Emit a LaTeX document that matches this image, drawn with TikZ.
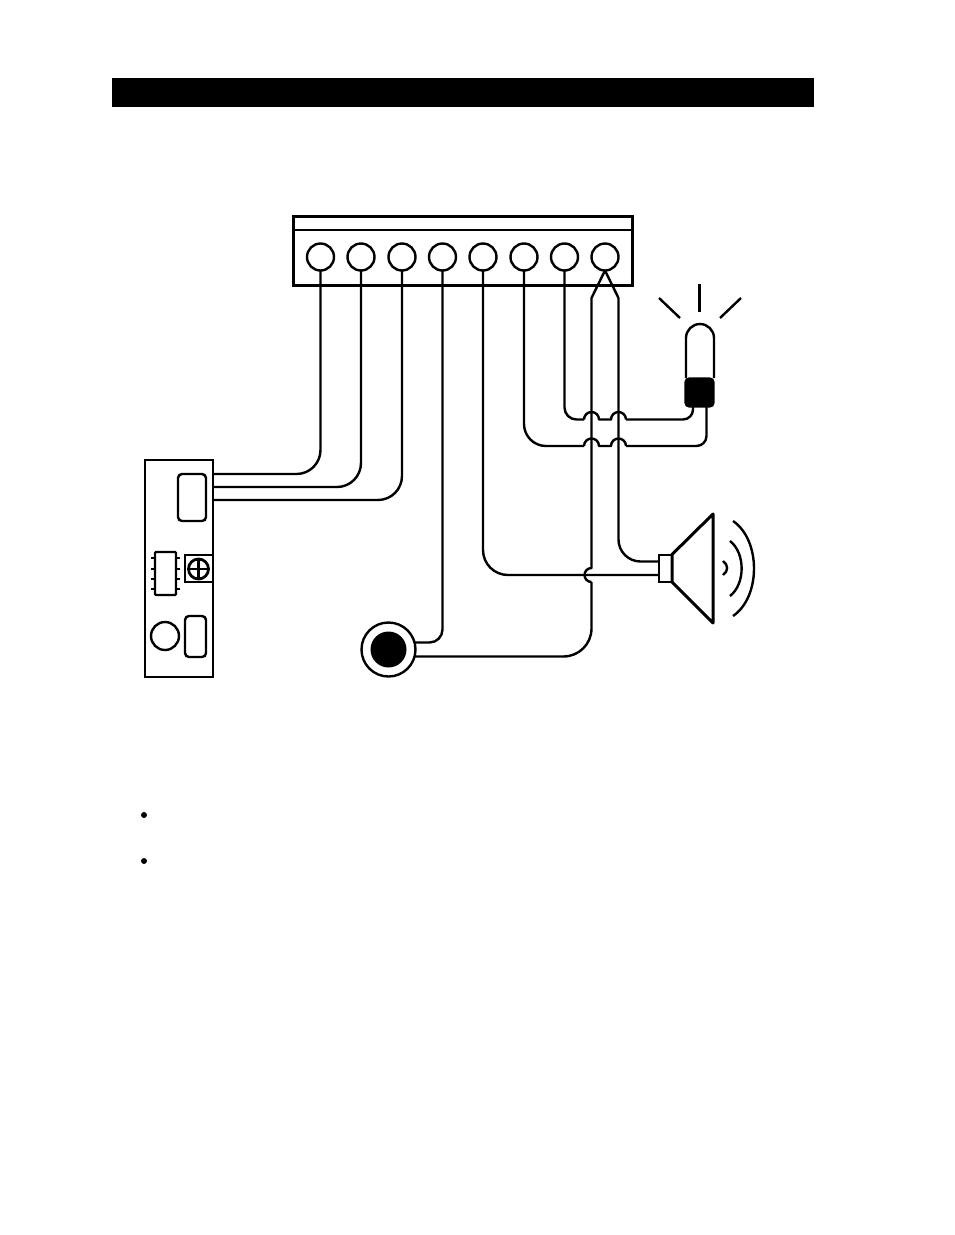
\documentclass[tikz,border=0pt]{standalone}
\tikzset{
    part/.style={draw, line width=2.4pt, inner sep=0pt, outer sep=0pt, fill=white},
    roundpart/.style={part, rounded corners=4pt},
    hole/.style={part, circle},
    wire/.style={line width=2.4pt, line join=round},
}
\begin{document}
\begin{tikzpicture}[x=1pt,y=1pt]
    \useasboundingbox (0,0) rectangle (954,-1235);

    % Draw the title bar
    \node[fill=black, inner sep=0pt, minimum width=702pt, minimum height=29pt] (titlebar) at (463,-92.5) {};

    % Add terminal strip
    \node[part, line width=3pt, minimum width=339pt, minimum height=69pt] (strip) at (462.5,-250.5) {};
    \draw[wire] (293,-230) -- (632,-230);
    \foreach \n/\x in {1/320.5,2/361,3/402,4/442.5,5/483,6/524,7/564.5,8/605}
        \node[hole, minimum size=27pt] (t\n) at (\x,-257) {};

    % Draw sensor board
    \node[part, minimum width=68pt, minimum height=217pt] (board) at (179,-568.5) {};
    \node[roundpart, minimum width=28pt, minimum height=47pt] (plug) at (192,-497.5) {};
    \node[part, line width=1.8pt, minimum width=28pt, minimum height=27pt] (trim) at (199,-568.5) {};
    \node[hole, line width=2.8pt, minimum size=20pt] (screw) at (198.5,-569) {};
    \draw[wire] (screw.west) -- (screw.east);
    \draw[wire] (screw.north) -- (screw.south);
    \foreach \y in {558,569,579,589}
        \draw[line width=1.8pt] (151,-\y) -- (180,-\y);
    \node[roundpart, rounded corners=1pt, minimum width=21pt, minimum height=43pt] (chip) at (165.5,-573.5) {};
    \node[hole, minimum size=28pt] (led) at (165,-636) {};
    \node[roundpart, minimum width=21pt, minimum height=41pt] (relay) at (195.5,-636.5) {};

    % Add push button
    \node[hole, minimum size=54pt] (mic) at (388.5,-649.5) {};
    \node[circle, fill=black, inner sep=0pt, minimum size=36pt] (micdot) at (388.5,-649.5) {};

    % Draw lamp
    \node[roundpart, fill=black, minimum width=28pt, minimum height=28pt] (lampbase) at (699.5,-392.5) {};
    \draw[wire] (686,-378) -- (686,-338) arc[start angle=180, end angle=0, radius=14] -- (714,-378);
    \draw[wire] (659,-298) -- (680,-318);
    \draw[wire] (699.5,-284) -- (699.5,-312);
    \draw[wire] (741,-298) -- (720,-318);

    % Draw speaker
    \node[part, minimum width=13pt, minimum height=27pt] (neck) at (665.5,-568.5) {};
    \draw[wire, line width=3pt] (672,-554.5) -- (713,-514) -- (713,-623) -- (672,-582) -- cycle;
    \draw[wire] (723,-561) .. controls (728.5,-565) and (728.5,-571) .. (723,-575);
    \draw[wire] (730,-541) .. controls (745.5,-553) and (745.5,-584) .. (730,-596);
    \draw[wire] (733,-521) .. controls (761,-540) and (761,-597) .. (733,-616);

    % Wire end points
    \coordinate (plugA) at (214,-474);
    \coordinate (plugB) at (214,-487);
    \coordinate (plugC) at (214,-500);
    \coordinate (lampA) at (693,-407);
    \coordinate (lampB) at (706.5,-407);
    \coordinate (neckA) at (659,-561.5);
    \coordinate (neckB) at (659,-575);

    % Wires to the board
    \draw[wire, rounded corners=24pt] (t1.south) |- (plugA);
    \draw[wire, rounded corners=24pt] (t2.south) |- (plugB);
    \draw[wire, rounded corners=24pt] (t3.south) |- (plugC);

    % Wires to the button and the speaker
    \draw[wire, rounded corners=13pt] (t4.south) |- (mic.15);
    \draw[wire, rounded corners=25pt] (t5.south) |- (neckB);
    \draw[wire] (t8.south) -- (618.5,-298);
    \draw[wire, rounded corners=22pt] (618.5,-298) |- (neckA);
    \draw[wire] (t8.south) -- (591.5,-298) -- (591.5,-568) arc[start angle=90, end angle=270, radius=7];
    \draw[wire, rounded corners=28pt] (591.5,-582) |- (mic.-15);

    % Wires to the lamp, hopping over the two speaker wires
    \draw[wire, rounded corners=12pt] (t7.south) |- (584,-419.5);
    \draw[wire] (584,-419.5) arc[start angle=180, end angle=0, radius=7.5] -- (611,-419.5)
        arc[start angle=180, end angle=0, radius=7.5];
    \draw[wire, rounded corners=10pt] (626,-419.5) -| (lampA);
    \draw[wire, rounded corners=22pt] (t6.south) |- (584,-446);
    \draw[wire] (584,-446) arc[start angle=180, end angle=0, radius=7.5] -- (611,-446)
        arc[start angle=180, end angle=0, radius=7.5];
    \draw[wire, rounded corners=10pt] (626,-446) -| (lampB);

    % Add bullets
    \node[circle, fill=black, inner sep=0pt, minimum size=6pt] (bulletA) at (144,-815) {};
    \node[circle, fill=black, inner sep=0pt, minimum size=6pt] (bulletB) at (144,-861) {};
\end{tikzpicture}
\end{document}
